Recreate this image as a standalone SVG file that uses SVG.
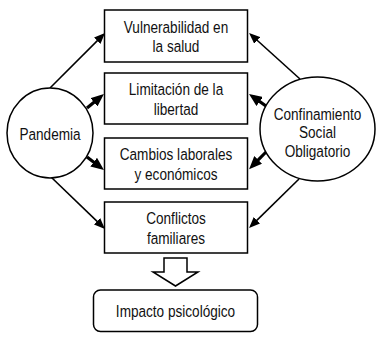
<svg xmlns="http://www.w3.org/2000/svg" width="382" height="338" viewBox="0 0 382 338">
<style>
.box{fill:#fff;stroke:#000;stroke-width:1.5}
.t{font-family:"Liberation Sans",Arial,sans-serif;font-size:17px;fill:#111;text-anchor:middle}
.thin{stroke:#000;stroke-width:1.6;fill:none;marker-end:url(#ah)}
.thick{stroke:#000;stroke-width:3.2;fill:none;marker-end:url(#ahb)}
</style>
<defs>
<marker id="ah" markerUnits="userSpaceOnUse" markerWidth="11" markerHeight="9" refX="8" refY="4.5" orient="auto"><path d="M0,0 L11,4.5 L0,9 z" fill="#000"/></marker>
<marker id="ahb" markerUnits="userSpaceOnUse" markerWidth="13" markerHeight="11" refX="8" refY="5.5" orient="auto"><path d="M0,0 L13,5.5 L0,11 z" fill="#000"/></marker>
</defs>
<rect width="382" height="338" fill="#fff"/>
<g id="connectors">
<line class="thin" x1="50" y1="88" x2="102.9" y2="35.1"/>
<line class="thick" x1="87" y1="108" x2="100.1" y2="97.2"/>
<line class="thick" x1="87" y1="157" x2="100" y2="167"/>
<line class="thin" x1="51" y1="177" x2="102.8" y2="226.9"/>
<line class="thin" x1="300" y1="79" x2="251.3" y2="35"/>
<line class="thick" x1="266" y1="106" x2="253.1" y2="96.9"/>
<line class="thick" x1="266" y1="152" x2="252.6" y2="165.6"/>
<line class="thin" x1="299" y1="179" x2="251.2" y2="225.9"/>
<polygon id="blockarrow" points="164,258 187,258 187,272 198,272 175.5,286 153,272 164,272" fill="#fff" stroke="#000" stroke-width="1.5" stroke-linejoin="miter"/>
</g>
<g id="pandemia">
<ellipse cx="50" cy="133" rx="43" ry="45" class="box"/>
<text class="t" transform="translate(50 139.5) scale(0.8 1)">Pandemia</text>
</g>
<g id="confinamiento">
<ellipse cx="317.5" cy="129" rx="57.5" ry="52" class="box"/>
<text class="t" transform="translate(317.5 119.5) scale(0.8 1)">Confinamiento</text>
<text class="t" transform="translate(317.5 138) scale(0.8 1)">Social</text>
<text class="t" transform="translate(317.5 156.5) scale(0.8 1)">Obligatorio</text>
</g>
<g id="vulnerabilidad">
<rect x="104.5" y="10" width="143" height="52" class="box"/>
<text class="t" transform="translate(176 32.7) scale(0.8 1)">Vulnerabilidad en</text>
<text class="t" transform="translate(176 52) scale(0.8 1)">la salud</text>
</g>
<g id="limitacion">
<rect x="104.5" y="73" width="143" height="51" class="box"/>
<text class="t" transform="translate(176 95) scale(0.8 1)">Limitación de la</text>
<text class="t" transform="translate(176 114.5) scale(0.8 1)">libertad</text>
</g>
<g id="cambios">
<rect x="104.5" y="138" width="143" height="51" class="box"/>
<text class="t" transform="translate(176 160) scale(0.8 1)">Cambios laborales</text>
<text class="t" transform="translate(176 179.5) scale(0.8 1)">y económicos</text>
</g>
<g id="conflictos">
<rect x="104.5" y="202" width="143" height="51" class="box"/>
<text class="t" transform="translate(176 224) scale(0.8 1)">Conflictos</text>
<text class="t" transform="translate(176 243.5) scale(0.8 1)">familiares</text>
</g>
<g id="impacto">
<rect x="93.5" y="290" width="164" height="41.5" rx="7" class="box"/>
<text class="t" transform="translate(175.5 317) scale(0.8 1)">Impacto psicológico</text>
</g>
</svg>
